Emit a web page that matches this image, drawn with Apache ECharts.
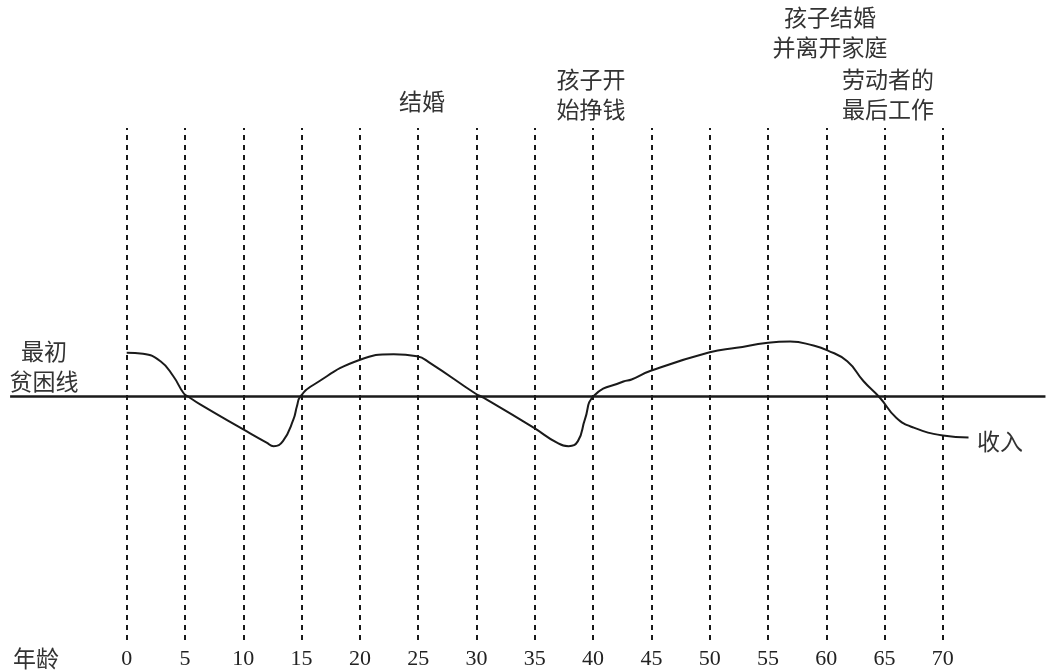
<!DOCTYPE html>
<html>
<head>
<meta charset="utf-8">
<script src="https://cdn.jsdelivr.net/npm/echarts@6/dist/echarts.min.js"></script>
<style>
html,body{margin:0;padding:0;background:#fff;}
#chart{width:1058px;height:670px;}
</style>
</head>
<body>
<div id="chart"></div>
<script>
// Ages (years) and income relative to the initial poverty line (0 = poverty line)
var ages = [0, 1.4, 2.9, 4.0, 4.9, 5.3, 6.3, 10.0, 12.0, 12.6, 13.4, 14.3, 14.6, 14.9, 16.0, 19.9, 22.9, 24.9, 26.0, 29.9, 30.6, 34.9, 36.9, 37.9, 38.7, 39.3, 40.1, 42.6, 43.3, 45.0, 50.0, 52.3, 55.0, 56.9, 58.9, 60.1, 61.8, 63.2, 64.6, 66.0, 67.5, 70.0, 72.2];
var income = [17.5, 17.1, 14.1, 8.1, 1.2, -0.1, -3.2, -13.2, -18.5, -19.9, -17.9, -9.2, -3.9, 0, 4.6, 14.5, 16.9, 16.1, 13.5, 1.2, -0.5, -12.5, -18.5, -19.9, -17.9, -9.2, 0.4, 6.0, 6.8, 10.4, 17.7, 19.5, 21.5, 22.0, 20.4, 18.5, 14.1, 6.1, -0.5, -8.5, -12.5, -15.6, -16.4];
var ageTicks = [0, 5, 10, 15, 20, 25, 30, 35, 40, 45, 50, 55, 60, 65, 70];
var povertyLine = [[-10, 0], [78.8, 0]];
var axisName = '年龄';
var povertyLabel = '最初\n贫困线';
var incomeLabel = '收入';
var events = ['结婚', '孩子开\n始挣钱', '孩子结婚\n并离开家庭', '劳动者的\n最后工作'];

var chart = echarts.init(document.getElementById('chart'));
var cjk = '"Noto Sans CJK SC", "Noto Sans", sans-serif';
var ink = '#1a1a1a';

var incomePoints = ages.map(function (a, i) { return [a, income[i]]; });

function txt(s, x, y, align) {
  return {
    type: 'text', x: x, y: y, silent: true,
    style: { text: s, fill: '#333', font: '23px ' + cjk, align: align || 'center', verticalAlign: 'middle', lineHeight: 30 }
  };
}

chart.setOption({
  backgroundColor: '#fff',
  animation: false,
  grid: { left: 10.1, right: 10.2, top: 128, bottom: 29 },
  xAxis: {
    type: 'value', min: -10, max: 79, interval: 5,
    axisLine: { show: false }, axisTick: { show: false }, splitLine: { show: false },
    axisLabel: {
      margin: 8,
      fontFamily: '"Liberation Serif", "DejaVu Serif", serif',
      fontSize: 22, color: '#222',
      formatter: function (v) { return ageTicks.indexOf(v) >= 0 ? String(v) : ''; }
    }
  },
  yAxis: {
    type: 'value', min: -97.6, max: 107.6,
    show: false, splitLine: { show: false }
  },
  series: [
    {
      type: 'line', data: povertyLine, symbol: 'none', silent: true,
      lineStyle: { color: ink, width: 2.5 },
      markLine: {
        silent: true, symbol: 'none', label: { show: false },
        lineStyle: { color: ink, width: 2, type: [5, 5] },
        data: ageTicks.map(function (t) { return { xAxis: t }; })
      },
      z: 3
    },
    {
      type: 'line', data: incomePoints, symbol: 'none', silent: true, clip: false,
      smooth: 0.5,
      lineStyle: { color: ink, width: 2 },
      z: 4
    }
  ],
  graphic: [
    txt(axisName, 36, 658),
    txt(povertyLabel, 44, 366),
    txt(incomeLabel, 1000, 441),
    txt(events[0], 422, 101),
    txt(events[1], 591, 94),
    txt(events[2], 830, 32),
    txt(events[3], 888, 94)
  ]
});
</script>
</body>
</html>
